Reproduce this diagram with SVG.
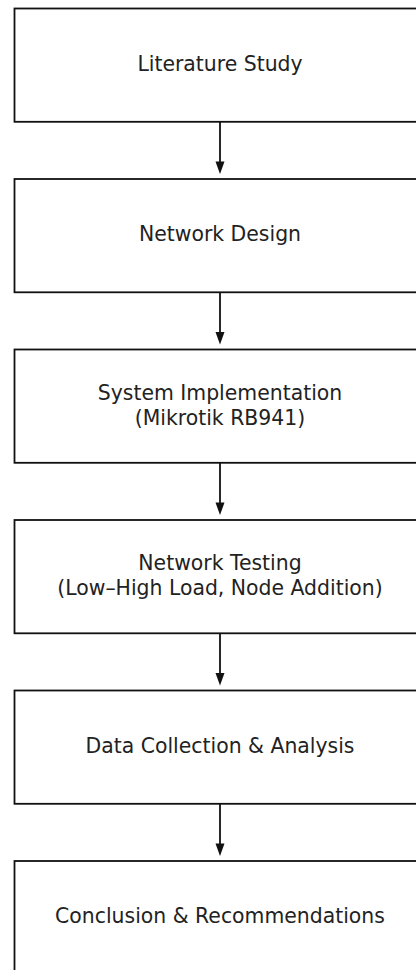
<svg xmlns="http://www.w3.org/2000/svg" width="416" height="970" viewBox="0 0 416 970">
<style>
.box{fill:#ffffff;stroke:#111111;stroke-width:1.8}
.lbl{font-family:"DejaVu Sans",sans-serif;font-size:20.4px;fill:#222222;text-anchor:middle}
.conn{stroke:#111111;stroke-width:1.8;fill:none}
.head{fill:#111111;stroke:none}
</style>
<rect width="416" height="970" fill="#ffffff"/>
<g id="connectors">
<line class="conn" x1="220" y1="122" x2="220" y2="164"/><path class="head" d="M215.5,161.5 L224.5,161.5 L220,174 Z"/>
<line class="conn" x1="220" y1="292.5" x2="220" y2="334.5"/><path class="head" d="M215.5,332 L224.5,332 L220,344.5 Z"/>
<line class="conn" x1="220" y1="463" x2="220" y2="505"/><path class="head" d="M215.5,502.5 L224.5,502.5 L220,515 Z"/>
<line class="conn" x1="220" y1="633.5" x2="220" y2="675.5"/><path class="head" d="M215.5,673 L224.5,673 L220,685.5 Z"/>
<line class="conn" x1="220" y1="804" x2="220" y2="846"/><path class="head" d="M215.5,843.5 L224.5,843.5 L220,856 Z"/>
</g>
<g id="n1"><rect class="box" x="14.5" y="8.5" width="412" height="113.3"/><text class="lbl" x="220" y="70.5">Literature Study</text></g>
<g id="n2"><rect class="box" x="14.5" y="179" width="412" height="113.3"/><text class="lbl" x="220" y="241">Network Design</text></g>
<g id="n3"><rect class="box" x="14.5" y="349.5" width="412" height="113.3"/><text class="lbl" x="220" y="400"><tspan x="220" y="400">System Implementation</tspan><tspan x="220" y="424.5">(Mikrotik RB941)</tspan></text></g>
<g id="n4"><rect class="box" x="14.5" y="520" width="412" height="113.3"/><text class="lbl" x="220" y="570"><tspan x="220" y="570">Network Testing</tspan><tspan x="220" y="594.5">(Low–High Load, Node Addition)</tspan></text></g>
<g id="n5"><rect class="box" x="14.5" y="690.5" width="412" height="113.3"/><text class="lbl" x="220" y="752.5">Data Collection &amp; Analysis</text></g>
<g id="n6"><rect class="box" x="14.5" y="861" width="412" height="113.3"/><text class="lbl" x="220" y="923">Conclusion &amp; Recommendations</text></g>
</svg>
